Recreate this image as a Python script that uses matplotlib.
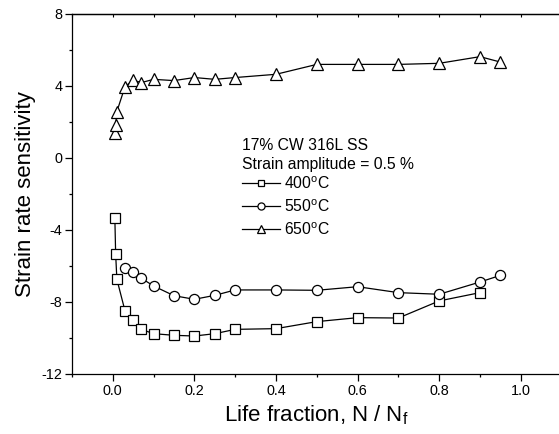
import matplotlib
matplotlib.use("Agg")
import matplotlib.pyplot as plt
from matplotlib.ticker import MultipleLocator, FixedLocator, NullFormatter

plt.rcParams['font.family'] = ['Liberation Sans', 'DejaVu Sans']
plt.rcParams['mathtext.fontset'] = 'custom'
plt.rcParams['mathtext.rm'] = 'Liberation Sans'
plt.rcParams['mathtext.it'] = 'Liberation Sans:italic'

# Life fraction N/Nf and strain rate sensitivity for each test temperature
x_400 = [0.005, 0.007, 0.01, 0.03, 0.05, 0.07, 0.1, 0.15, 0.2, 0.25, 0.3,
         0.4, 0.5, 0.6, 0.7, 0.8, 0.9]
y_400 = [-3.31, -5.35, -6.74, -8.5, -9.0, -9.52, -9.76, -9.85, -9.89, -9.76,
         -9.52, -9.48, -9.09, -8.87, -8.89, -7.94, -7.48]

x_550 = [0.03, 0.05, 0.07, 0.1, 0.15, 0.2, 0.25, 0.3, 0.4, 0.5, 0.6, 0.7,
         0.8, 0.9, 0.95]
y_550 = [-6.09, -6.33, -6.68, -7.11, -7.65, -7.85, -7.63, -7.33, -7.33,
         -7.35, -7.15, -7.48, -7.57, -6.89, -6.52]

x_650 = [0.005, 0.007, 0.01, 0.03, 0.05, 0.07, 0.1, 0.15, 0.2, 0.25, 0.3,
         0.4, 0.5, 0.6, 0.7, 0.8, 0.9, 0.95]
y_650 = [1.41, 1.83, 2.58, 3.97, 4.32, 4.19, 4.37, 4.3, 4.47, 4.37, 4.47,
         4.65, 5.2, 5.2, 5.2, 5.26, 5.63, 5.33]

labels = ['400$\\mathregular{^o}$C', '550$\\mathregular{^o}$C',
          '650$\\mathregular{^o}$C']
x_ticks = [0.0, 0.2, 0.4, 0.6, 0.8, 1.0]
y_ticks = [-12, -8, -4, 0, 4, 8]

fig = plt.figure(figsize=(5.59, 4.34), dpi=100)
ax = fig.add_axes([72 / 559, 60 / 434, 489.6 / 559, 360 / 434])

style = dict(color='black', lw=0.9, mfc='white', mec='black', mew=0.9)
ax.plot(x_400, y_400, marker='s', ms=6.5, label=labels[0], **style)
ax.plot(x_550, y_550, marker='o', ms=7.3, label=labels[1], **style)
ax.plot(x_650, y_650, marker='^', ms=9, label=labels[2], **style)

ax.set_xlim(-0.1, 1.1)
ax.set_ylim(-12, 8)
ax.xaxis.set_major_locator(FixedLocator(x_ticks))
ax.xaxis.set_minor_locator(MultipleLocator(0.1))
ax.yaxis.set_major_locator(FixedLocator(y_ticks))
ax.yaxis.set_minor_locator(MultipleLocator(2))
ax.set_xticklabels([f'{v:.1f}' for v in x_ticks])
ax.set_yticklabels([str(v) for v in y_ticks])

ax.spines['right'].set_visible(False)
for s in ax.spines.values():
    s.set_linewidth(0.9)
ax.tick_params(axis='both', which='major', direction='out', length=5,
               width=0.9, labelsize=10.4, pad=2)
ax.tick_params(axis='both', which='minor', direction='out', length=2.5,
               width=0.9)

# small inward ticks along the top edge
top = ax.secondary_xaxis('top')
top.xaxis.set_major_locator(MultipleLocator(0.1))
top.xaxis.set_major_formatter(NullFormatter())
top.tick_params(direction='in', length=1.8, width=0.8)
top.spines['top'].set_linewidth(0.9)

ax.set_xlabel('Life fraction, N / N$_\\mathregular{f}$', fontsize=16, labelpad=4)
ax.set_ylabel('Strain rate sensitivity', fontsize=16, labelpad=4)

ax.text(0.347, 0.636, '17% CW 316L SS', transform=ax.transAxes,
        fontsize=11.3, va='center', ha='left')
ax.text(0.347, 0.583, 'Strain amplitude = 0.5 %', transform=ax.transAxes,
        fontsize=11.3, va='center', ha='left')

ax.legend(loc='upper left', bbox_to_anchor=(0.347, 0.553), frameon=False,
          fontsize=11.3, borderpad=0, borderaxespad=0, handlelength=2.4,
          handletextpad=0.3, labelspacing=0.42, markerscale=0.7)

fig.savefig('out.png', dpi=100)
